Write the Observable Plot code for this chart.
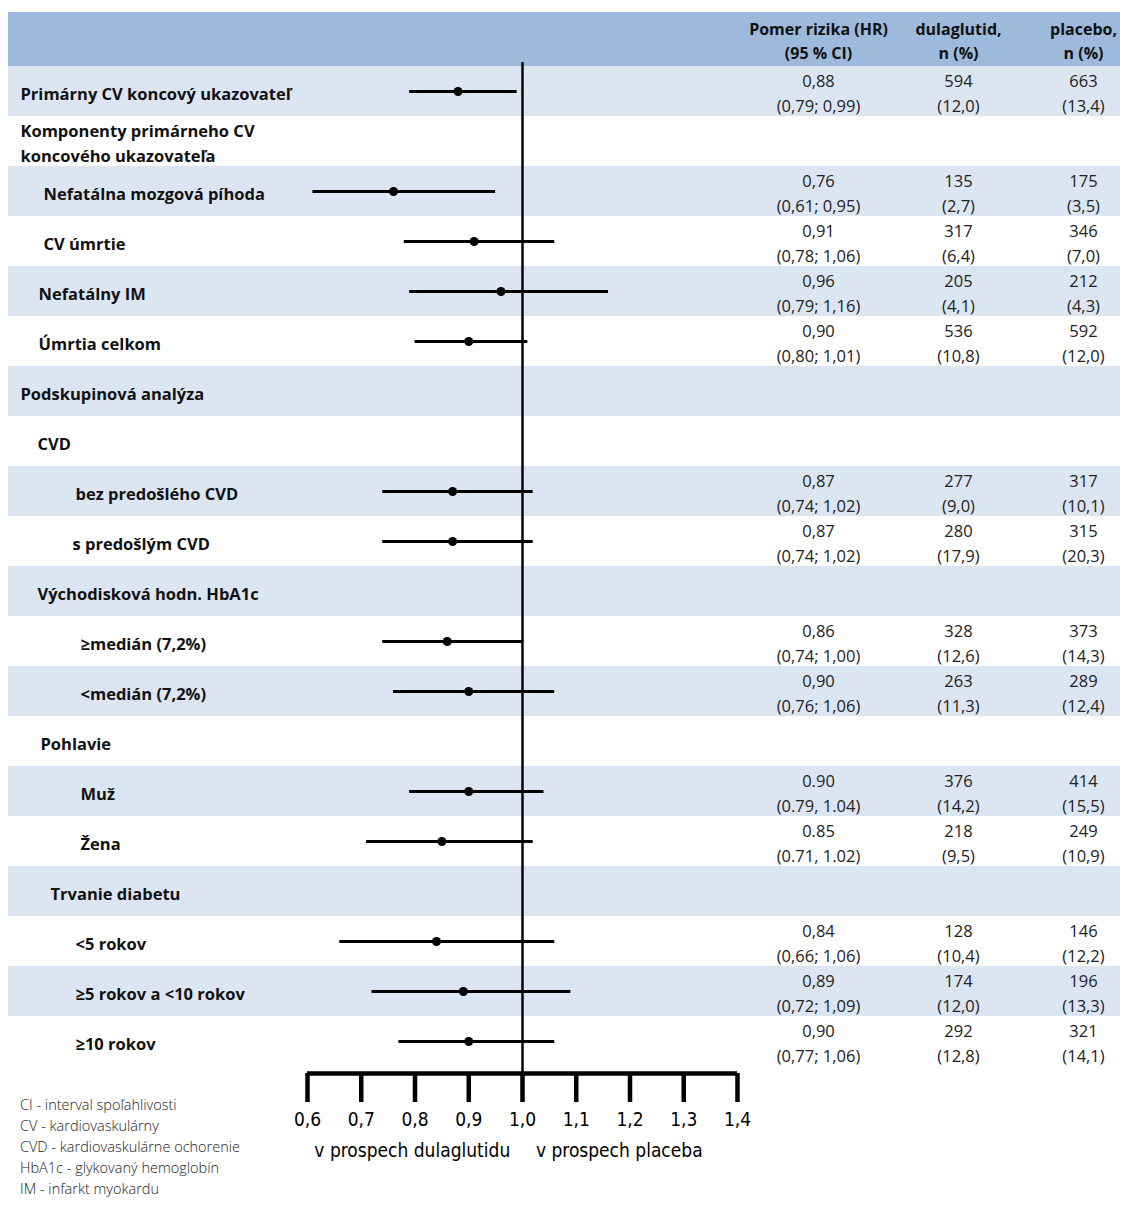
<!DOCTYPE html>
<html>
<head>
<meta charset="utf-8">
<script src="https://cdn.jsdelivr.net/npm/d3@7"></script>
<script src="https://cdn.jsdelivr.net/npm/@observablehq/plot@0.6"></script>
<style>
  body { margin: 0; background: #fff; }
  #wrap { position: relative; width: 1131px; height: 1222px; }
  #notes { position: absolute; left: 20px; top: 1094px; font: 300 14.5px "Open Sans", sans-serif; line-height: 21px; color: #222; }
</style>
</head>
<body>
<div id="wrap">
  <div id="chart"></div>
  <div id="notes">
    CI - interval spoľahlivosti<br>CV - kardiovaskulárny<br>CVD - kardiovaskulárne ochorenie<br>HbA1c - glykovaný hemoglobín<br>IM - infarkt myokardu
  </div>
</div>
<script>
// riadky tabuľky
const labels = [
  "Primárny CV koncový ukazovateľ",
  "Komponenty primárneho CV\nkoncového ukazovateľa",
  "Nefatálna mozgová píhoda",
  "CV úmrtie",
  "Nefatálny IM",
  "Úmrtia celkom",
  "Podskupinová analýza",
  "CVD",
  "bez predošlého CVD",
  "s predošlým CVD",
  "Východisková hodn. HbA1c",
  "≥medián (7,2%)",
  "<medián (7,2%)",
  "Pohlavie",
  "Muž",
  "Žena",
  "Trvanie diabetu",
  "<5 rokov",
  "≥5 rokov a <10 rokov",
  "≥10 rokov"
];
const indent = [20, 20, 43, 43, 38, 38, 20, 37, 75, 72, 37, 80, 80, 40, 80, 80, 50, 75, 75, 75];
const hr = [0.88, null, 0.76, 0.91, 0.96, 0.90, null, null, 0.87, 0.87, null, 0.86, 0.90, null, 0.90, 0.85, null, 0.84, 0.89, 0.90];
const lo = [0.79, null, 0.61, 0.78, 0.79, 0.80, null, null, 0.74, 0.74, null, 0.74, 0.76, null, 0.79, 0.71, null, 0.66, 0.72, 0.77];
const hi = [0.99, null, 0.95, 1.06, 1.16, 1.01, null, null, 1.02, 1.02, null, 1.00, 1.06, null, 1.04, 1.02, null, 1.06, 1.09, 1.06];
const hrText = ["0,88\n(0,79; 0,99)", "", "0,76\n(0,61; 0,95)", "0,91\n(0,78; 1,06)", "0,96\n(0,79; 1,16)", "0,90\n(0,80; 1,01)", "", "",
  "0,87\n(0,74; 1,02)", "0,87\n(0,74; 1,02)", "", "0,86\n(0,74; 1,00)", "0,90\n(0,76; 1,06)", "",
  "0.90\n(0.79, 1.04)", "0.85\n(0.71, 1.02)", "", "0,84\n(0,66; 1,06)", "0,89\n(0,72; 1,09)", "0,90\n(0,77; 1,06)"];
const dulaText = ["594\n(12,0)", "", "135\n(2,7)", "317\n(6,4)", "205\n(4,1)", "536\n(10,8)", "", "",
  "277\n(9,0)", "280\n(17,9)", "", "328\n(12,6)", "263\n(11,3)", "",
  "376\n(14,2)", "218\n(9,5)", "", "128\n(10,4)", "174\n(12,0)", "292\n(12,8)"];
const placText = ["663\n(13,4)", "", "175\n(3,5)", "346\n(7,0)", "212\n(4,3)", "592\n(12,0)", "", "",
  "317\n(10,1)", "315\n(20,3)", "", "373\n(14,3)", "289\n(12,4)", "",
  "414\n(15,5)", "249\n(10,9)", "", "146\n(12,2)", "196\n(13,3)", "321\n(14,1)"];
const headers = ["Pomer rizika (HR)\n(95 % CI)", "dulaglutid,\nn (%)", "placebo,\nn (%)"];
const ticks = [0.6, 0.7, 0.8, 0.9, 1.0, 1.1, 1.2, 1.3, 1.4];
const favour = ["v prospech dulaglutidu", "v prospech placeba"];
const favourX = [0.795, 1.18];

const rows = labels.map((label, i) => ({
  i, label, indent: indent[i], hr: hr[i], lo: lo[i], hi: hi[i],
  hrText: hrText[i], dulaText: dulaText[i], placText: placText[i]
}));

const xDomain = [0.0437, 2.1126];
const yDomain = [-1.08, 20.14];
const colDx = [810, 950, 1075];
const font = "Open Sans, sans-serif";
const narrow = "DejaVu Sans Condensed, Liberation Sans Narrow, sans-serif";
const fmt = d => d.toFixed(1).replace(".", ",");

// popisy riadkov podľa odsadenia (dx musí byť konštanta)
const labelMarks = Array.from(new Set(indent)).map(ind => Plot.text(rows.filter(d => d.indent === ind), {
  y: d => d.i + 0.5, frameAnchor: "left", dx: ind - 8, text: "label", textAnchor: "start",
  fontFamily: font, fontWeight: "bold", fontSize: 16.5, lineHeight: 1.55, fill: "#111"
}));

const chart = Plot.plot({
  width: 1131,
  height: 1222,
  marginLeft: 8,
  marginRight: 11,
  marginTop: 12,
  marginBottom: 149,
  x: { domain: xDomain },
  y: { domain: yDomain, axis: null, reverse: true },
  marks: [
    // hlavička
    Plot.rect([0], { x1: xDomain[0], x2: xDomain[1], y1: yDomain[0], y2: 0, fill: "#9db9dc" }),
    // pruhy
    Plot.rect(rows.filter(d => d.i % 2 === 0), { x1: xDomain[0], x2: xDomain[1], y1: "i", y2: d => d.i + 1, fill: "#dce6f2" }),
    ...headers.map((h, k) => Plot.text([h], {
      y: yDomain[0] / 2, frameAnchor: "left", dx: colDx[k], text: d => d, textAnchor: "middle",
      fontFamily: font, fontWeight: "bold", fontSize: 16, lineHeight: 1.5, fill: "#111"
    })),
    // vertikála 1,0
    Plot.ruleX([1], { y1: -0.08, y2: yDomain[1], stroke: "#000", strokeWidth: 2.5 }),
    // os
    Plot.ruleY([yDomain[1]], { x1: 0.6, x2: 1.4, stroke: "#000", strokeWidth: 4.5 }),
    Plot.axisX(ticks, {
      anchor: "bottom", tickSize: 29, strokeWidth: 4.5, tickPadding: 10, tickFormat: fmt,
      fontSize: 19, fontFamily: narrow, label: null, fill: "#000"
    }),
    Plot.text(favour, {
      x: (d, k) => favourX[k], frameAnchor: "bottom", dy: 83, text: d => d,
      fontSize: 19, fontFamily: narrow, fill: "#000"
    }),
    // intervaly a body
    Plot.ruleY(rows.filter(d => d.hr != null), { y: d => d.i + 0.5, x1: "lo", x2: "hi", stroke: "#000", strokeWidth: 3 }),
    Plot.dot(rows.filter(d => d.hr != null), { x: "hr", y: d => d.i + 0.5, r: 4.5, fill: "#000" }),
    ...labelMarks,
    ...["hrText", "dulaText", "placText"].map((key, k) => Plot.text(rows, {
      y: d => d.i + 0.5, frameAnchor: "left", dx: colDx[k], text: key, textAnchor: "middle",
      fontFamily: font, fontSize: 16.5, lineHeight: 1.55, fill: "#222"
    }))
  ]
});

document.getElementById("chart").appendChild(chart);
</script>
</body>
</html>
